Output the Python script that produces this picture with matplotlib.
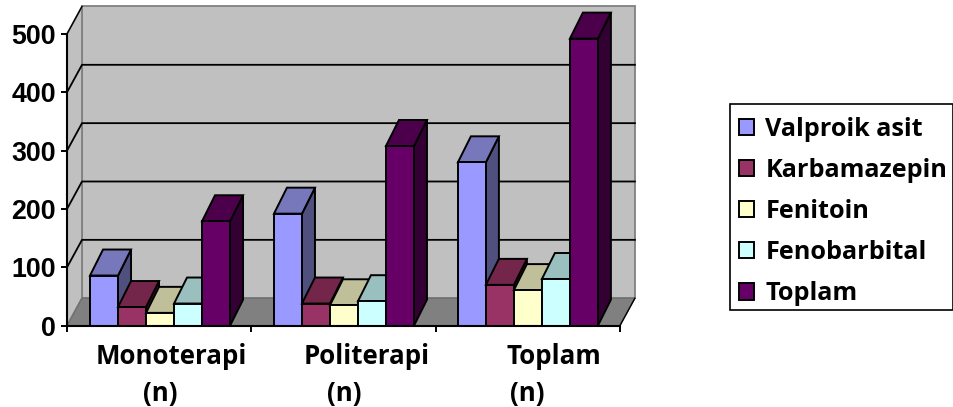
import matplotlib
matplotlib.use('Agg')
import matplotlib.pyplot as plt
from matplotlib.patches import Patch, Rectangle

groups = ['Monoterapi\n(n)', 'Politerapi\n(n)', 'Toplam\n(n)']
valproik = [86, 192, 280]
karbamazepin = [32, 38, 70]
fenitoin = [22, 35, 61]
fenobarbital = [38, 42, 80]
toplam = [179, 308, 492]
names = ['Valproik asit', 'Karbamazepin', 'Fenitoin', 'Fenobarbital', 'Toplam']
front = ['#9999FF', '#993366', '#FFFFCC', '#CCFFFF', '#660066']
top = ['#7777BB', '#732649', '#BFBF99', '#99BFBF', '#4C004C']
side = ['#50507F', '#4D1A33', '#80805F', '#5F8080', '#330033']
series = [valproik, karbamazepin, fenitoin, fenobarbital, toplam]

W, H = 954, 407
px_x = 184.3          # pixels per category
px_y = 0.5835         # pixels per unit on y
x0, y0 = 67, 325.7

fig = plt.figure(figsize=(W / 100, H / 100), dpi=100)
ax = fig.add_axes([x0 / W, (H - y0) / H, 3 * px_x / W, 500 * px_y / H])
ax.set_xlim(0, 3)
ax.set_ylim(0, 500)

# oblique depth of the box and of the bars, in data units
wall_dx, wall_dy = 15 / px_x, 27.5 / px_y
bar_dx, bar_dy = 13 / px_x, 26 / px_y
bar_w = 28 / px_x
group_off = [0.125, 1.123, 2.121]

# walls and floor
ax.fill([wall_dx, 3 + wall_dx, 3 + wall_dx, wall_dx],
        [wall_dy, wall_dy, 500 + wall_dy, 500 + wall_dy],
        fc='#C0C0C0', ec='#808080', lw=1.3, clip_on=False, zorder=1)
ax.fill([0, wall_dx, wall_dx, 0], [0, wall_dy, 500 + wall_dy, 500],
        fc='#C0C0C0', ec='#808080', lw=1.3, clip_on=False, zorder=1)
ax.fill([0, 3, 3 + wall_dx, wall_dx], [0, 0, wall_dy, wall_dy],
        fc='#808080', ec='#707070', lw=1, clip_on=False, zorder=1)

for v in [100, 200, 300, 400]:
    ax.plot([0, wall_dx, 3 + wall_dx], [v, v + wall_dy, v + wall_dy],
            color='black', lw=1.3, clip_on=False, zorder=2)
ax.plot([3, 3 + wall_dx], [0, wall_dy], color='black', lw=1, clip_on=False, zorder=2)
ax.plot([0, wall_dx], [500, 500 + wall_dy], color='black', lw=1, clip_on=False, zorder=2)

z = 3
for g, off in enumerate(group_off):
    for i, vals in enumerate(series):
        x = off + i * bar_w
        v = vals[g]
        ax.fill([x + bar_w, x + bar_w + bar_dx, x + bar_w + bar_dx, x + bar_w],
                [0, bar_dy, v + bar_dy, v], fc=side[i], ec='black', lw=1.4,
                clip_on=False, zorder=z)
        ax.fill([x, x + bar_w, x + bar_w + bar_dx, x + bar_dx],
                [v, v, v + bar_dy, v + bar_dy], fc=top[i], ec='black', lw=1.4,
                clip_on=False, zorder=z)
        ax.bar(x, v, bar_w, align='edge', color=front[i], edgecolor='black',
               linewidth=1.4, clip_on=False, zorder=z)
        z += 1

for s in ['top', 'right']:
    ax.spines[s].set_visible(False)
for s in ['left', 'bottom']:
    ax.spines[s].set_linewidth(1.5)
    ax.spines[s].set_zorder(100)

ax.set_yticks([0, 100, 200, 300, 400, 500])
ax.set_xticks([0, 1, 2, 3])
ax.set_xticklabels([])
ax.tick_params(axis='both', length=4, width=1.4, color='black')
ax.tick_params(axis='y', pad=4)
for lab in ax.get_yticklabels():
    lab.set_fontfamily('Liberation Sans')
    lab.set_fontweight('bold')
    lab.set_fontsize(19.3)

# category labels are not centred on their groups in the original
label_font = dict(family='Open Sans', fontweight='bold', fontsize=18.6,
                  ha='center', va='center', color='black', clip_on=False)
line1_x = [0.564, 1.628, 2.642]
line2_x = [0.505, 1.503, 2.496]
for g, lab in enumerate(groups):
    first, second = lab.split('\n')
    ax.text(line1_x[g], -53, first, **label_font)
    ax.text(line2_x[g], -116, second, **label_font)

# legend frame drawn by hand, its text sits higher in the box than matplotlib's padding allows
fig.add_artist(Rectangle((730 / W, 1 - 310 / H), 223.5 / W, 206 / H, transform=fig.transFigure,
                         fc='white', ec='black', lw=1.2))
handles = [Patch(facecolor=c, edgecolor='black', linewidth=1.4) for c in front]
leg = fig.legend(handles, names, loc='upper left', bbox_to_anchor=(731.5 / W, 1 - 109.5 / H),
                 bbox_transform=fig.transFigure, borderaxespad=0, frameon=False,
                 handlelength=0.6, handleheight=0.6, handletextpad=0.46,
                 borderpad=0.285, labelspacing=0.64,
                 prop={'family': 'Open Sans', 'weight': 'bold', 'size': 18.2})
leg.set_zorder(5)

fig.savefig('out.png', dpi=100)
